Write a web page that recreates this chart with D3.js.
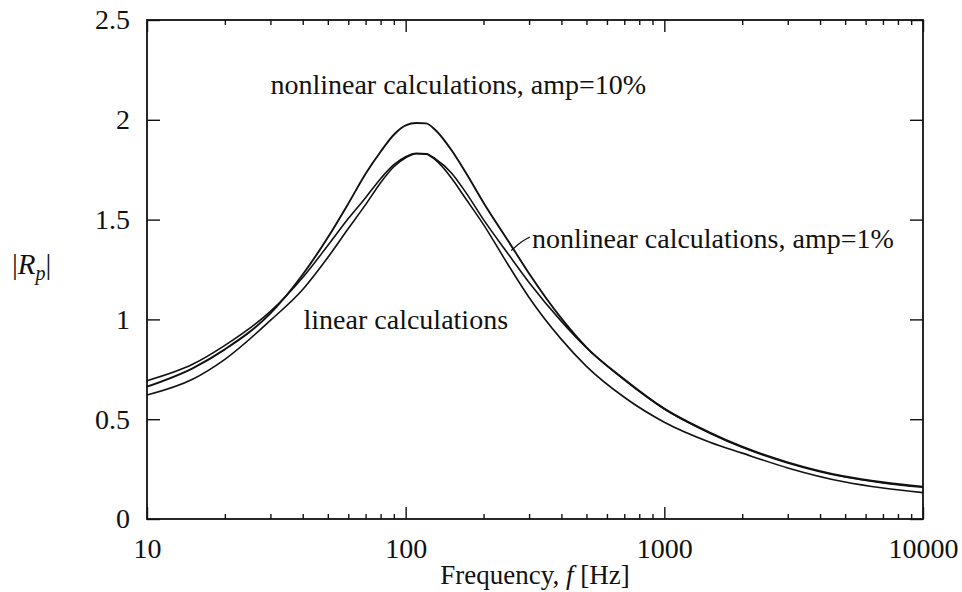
<!DOCTYPE html>
<html>
<head>
<meta charset="utf-8">
<script src="https://cdn.jsdelivr.net/npm/d3@7"></script>
<style>
  body { margin: 0; background: #fff; }
  text { font-family: "Liberation Serif", "Times New Roman", Times, "DejaVu Serif", "Noto Serif", serif; fill: #111; }
</style>
</head>
<body>
<svg id="chart" width="962" height="592"></svg>
<script>
const freqs = [10, 15, 20, 30, 40, 50, 60, 70, 80, 90, 100, 110, 120, 130, 150, 170, 200, 250, 300, 400, 500, 700, 1000, 1500, 2000, 3000, 5000, 7000, 10000]

// |Rp| values, one per frequency
const linearVals = [0.621, 0.70, 0.80, 0.995, 1.15, 1.31, 1.455, 1.575, 1.685, 1.765, 1.81, 1.83, 1.828, 1.80, 1.71, 1.608, 1.475, 1.27, 1.11, 0.90, 0.765, 0.61, 0.485, 0.385, 0.33, 0.256, 0.185, 0.155, 0.132]
const amp1Vals = [0.693, 0.775, 0.87, 1.04, 1.21, 1.37, 1.505, 1.61, 1.705, 1.775, 1.815, 1.832, 1.83, 1.805, 1.735, 1.64, 1.50, 1.325, 1.185, 0.99, 0.858, 0.697, 0.551, 0.43, 0.359, 0.281, 0.21, 0.181, 0.159]
const amp10Vals = [0.663, 0.755, 0.85, 1.03, 1.225, 1.41, 1.58, 1.73, 1.84, 1.925, 1.972, 1.984, 1.982, 1.95, 1.85, 1.74, 1.585, 1.39, 1.23, 1.005, 0.86, 0.70, 0.553, 0.433, 0.362, 0.284, 0.213, 0.184, 0.162]

const xTickValues = [10, 100, 1000, 10000]
const xTickLabels = ["10", "100", "1000", "10000"]
const yTickValues = [0, 0.5, 1, 1.5, 2, 2.5]
const yTickLabels = ["0", "0.5", "1", "1.5", "2", "2.5"]

// annotations: [text, freq, value] (text start, baseline)
const notes = [
  ["nonlinear calculations, amp=10%", 30, 2.13],
  ["nonlinear calculations, amp=1%", 308, 1.358],
  ["linear calculations", 40.3, 0.952]
]
// little pointer from the amp=1% curve to its label
const pointer = [[256, 1.345], [280, 1.39], [302, 1.413]]

const width = 962, height = 592
const margin = {top: 20, right: 39, bottom: 73, left: 147}
const fontStack = "'Liberation Serif', 'Times New Roman', 'DejaVu Serif', serif"

const svg = d3.select("#chart")

const x = d3.scaleLog().domain([10, 10000]).range([margin.left, width - margin.right])
const y = d3.scaleLinear().domain([0, 2.5]).range([height - margin.bottom, margin.top])

// minor ticks 2..9 in each decade
let minorTicks = []
for (let d = 10; d < 10000; d *= 10) {
  for (let m = 2; m <= 9; m++) minorTicks.push(d * m)
}

const x0 = margin.left, x1 = width - margin.right
const y0 = height - margin.bottom, y1 = margin.top

// ticks pointing inward on all four sides
function tickAxis(axis, transform) {
  const g = svg.append("g").attr("transform", transform).call(axis)
  g.select(".domain").remove()
  g.selectAll("line").attr("stroke", "#111").attr("stroke-width", 1.4)
  return g
}
tickAxis(d3.axisTop(x).tickValues(xTickValues).tickSize(12).tickFormat(""), `translate(0,${y0})`)
tickAxis(d3.axisTop(x).tickValues(minorTicks).tickSize(5).tickFormat(""), `translate(0,${y0})`)
tickAxis(d3.axisBottom(x).tickValues(xTickValues).tickSize(12).tickFormat(""), `translate(0,${y1})`)
tickAxis(d3.axisBottom(x).tickValues(minorTicks).tickSize(5).tickFormat(""), `translate(0,${y1})`)
tickAxis(d3.axisRight(y).tickValues(yTickValues).tickSize(13).tickFormat(""), `translate(${x0},0)`)
tickAxis(d3.axisLeft(y).tickValues(yTickValues).tickSize(13).tickFormat(""), `translate(${x1},0)`)

// tick labels
const xLab = svg.append("g").attr("transform", `translate(0,${y0})`)
  .call(d3.axisBottom(x).tickValues(xTickValues).tickSize(0).tickPadding(19)
    .tickFormat((d, i) => xTickLabels[i]))
xLab.attr("font-family", fontStack)
xLab.select(".domain").remove()
xLab.selectAll("text").attr("font-size", 28).attr("font-family", fontStack)

const yLab = svg.append("g").attr("transform", `translate(${x0},0)`)
  .call(d3.axisLeft(y).tickValues(yTickValues).tickSize(0).tickPadding(17)
    .tickFormat((d, i) => yTickLabels[i]))
yLab.attr("font-family", fontStack)
yLab.select(".domain").remove()
yLab.selectAll("text").attr("font-size", 28).attr("font-family", fontStack)

// frame
svg.append("rect")
  .attr("x", x0).attr("y", y1)
  .attr("width", x1 - x0).attr("height", y0 - y1)
  .attr("fill", "none").attr("stroke", "#111").attr("stroke-width", 1.8)

// curves
const line = d3.line()
  .x(d => x(d[0]))
  .y(d => y(d[1]))
  .curve(d3.curveMonotoneX)

const series = [
  {name: "linear", vals: linearVals, w: 1.6},
  {name: "amp1", vals: amp1Vals, w: 1.6},
  {name: "amp10", vals: amp10Vals, w: 1.9}
]
svg.append("g").selectAll("path")
  .data(series)
  .join("path")
  .attr("d", s => line(freqs.map((f, i) => [f, s.vals[i]])))
  .attr("fill", "none")
  .attr("stroke", "#111")
  .attr("stroke-width", s => s.w)

svg.append("path")
  .attr("d", d3.line().x(d => x(d[0])).y(d => y(d[1])).curve(d3.curveBasis)(pointer))
  .attr("fill", "none").attr("stroke", "#111").attr("stroke-width", 1.3)

svg.append("g").selectAll("text")
  .data(notes)
  .join("text")
  .attr("x", d => x(d[1]))
  .attr("y", d => y(d[2]))
  .attr("font-family", fontStack)
  .attr("font-size", 28)
  .text(d => d[0])

// axis titles
svg.append("text")
  .attr("x", (x0 + x1) / 2).attr("y", 584)
  .attr("text-anchor", "middle")
  .attr("font-family", fontStack)
  .attr("font-size", 27)
  .call(t => {
    t.append("tspan").text("Frequency, ")
    t.append("tspan").attr("font-style", "italic").text("f")
    t.append("tspan").text(" [Hz]")
  })

svg.append("text")
  .attr("x", 12).attr("y", 274)
  .attr("font-family", fontStack)
  .attr("font-size", 29)
  .call(t => {
    t.append("tspan").text("|")
    t.append("tspan").attr("font-style", "italic").text("R")
    t.append("tspan").attr("font-style", "italic").attr("font-size", 20).attr("dy", 6).text("p")
    t.append("tspan").attr("dy", -6).text("|")
  })
</script>
</body>
</html>
